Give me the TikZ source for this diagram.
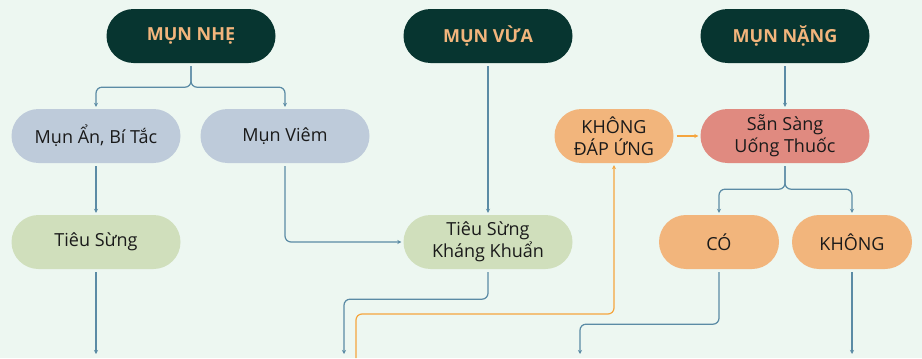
\documentclass[tikz,border=0pt]{standalone}
\usepackage{fontspec}
\setmainfont{Open Sans}
\usetikzlibrary{arrows.meta}
\definecolor{bg}{HTML}{EDF7F1}
\definecolor{dark}{HTML}{073530}
\definecolor{peach}{HTML}{F2B57C}
\definecolor{slate}{HTML}{BECBDA}
\definecolor{sage}{HTML}{D0DFBC}
\definecolor{rose}{HTML}{E08A80}
\definecolor{steel}{HTML}{5B8BA5}
\definecolor{amber}{HTML}{F5A53E}
\definecolor{ink}{HTML}{1A1A1A}
\begin{document}
\begin{tikzpicture}[x=1pt,y=-1pt,
		pill/.style={rounded corners=27pt, minimum width=169pt, minimum height=54pt, inner sep=0pt, align=center, text=ink, font=\fontsize{18}{22}\selectfont},
		head/.style={pill, fill=dark, text=peach, font=\bfseries\fontsize{18}{22}\selectfont},
		link/.style={draw=steel, line width=1.2pt, rounded corners=6pt, -{Stealth[length=4pt,width=4pt]}, shorten >=2pt, shorten <=3pt},
		olink/.style={link, draw=amber}]
		\fill[bg] (0,0) rectangle (922,358);
		% top row
		\foreach \n/\x/\t in {nhe/191/MỤN NHẸ, vua/488/MỤN VỪA, nang/785/MỤN NẶNG}
			\node[head] (\n) at (\x,36) {\t};
		% second row
		\node[pill, fill=slate] (an) at (96,136) {Mụn Ẩn, Bí Tắc};
		\node[pill, fill=slate] (viem) at (285,136) {Mụn Viêm};
		\node[pill, fill=peach, minimum width=119pt] (kdu) at (614,136) {KHÔNG\\ĐÁP ỨNG};
		\node[pill, fill=rose] (san) at (785,136) {Sẵn Sàng\\Uống Thuốc};
		% third row
		\node[pill, fill=sage] (tieu) at (96,242) {Tiêu Sừng};
		\node[pill, fill=sage] (tskk) at (488,242) {Tiêu Sừng\\Kháng Khuẩn};
		\node[pill, fill=peach, minimum width=120pt] (co) at (719,242) {CÓ};
		\node[pill, fill=peach, minimum width=120pt] (khong) at (852,242) {KHÔNG};
		% free ends at the bottom edge
		\coordinate (e1) at (96,356);
		\coordinate (e2) at (344,356);
		\coordinate (o1) at (356,358);
		\coordinate (e3) at (580,356);
		\coordinate (e4) at (852,356);
		% connectors
		\draw[link] (nhe.south) -- ++(0,24) -| (an.north);
		\draw[link] (nhe.south) -- ++(0,24) -| (viem.north);
		\draw[link] (an) -- (tieu);
		\draw[link] (tieu) -- (e1);
		\draw[link] (viem.south) |- (tskk.west);
		\draw[link] (vua) -- (tskk);
		\draw[link] (tskk.south) -- ++(0,30) -| (e2);
		\draw[olink, shorten <=0pt] (o1) -- ++(0,-44) -| (kdu.south);
		\draw[olink] (kdu) -- (san);
		\draw[link] (nang) -- (san);
		\draw[link] (san.south) -- ++(0,26) -| (co.north);
		\draw[link] (san.south) -- ++(0,26) -| (khong.north);
		\draw[link] (co.south) -- ++(0,55) -| (e3);
		\draw[link] (khong) -- (e4);
	\end{tikzpicture}
\end{document}
